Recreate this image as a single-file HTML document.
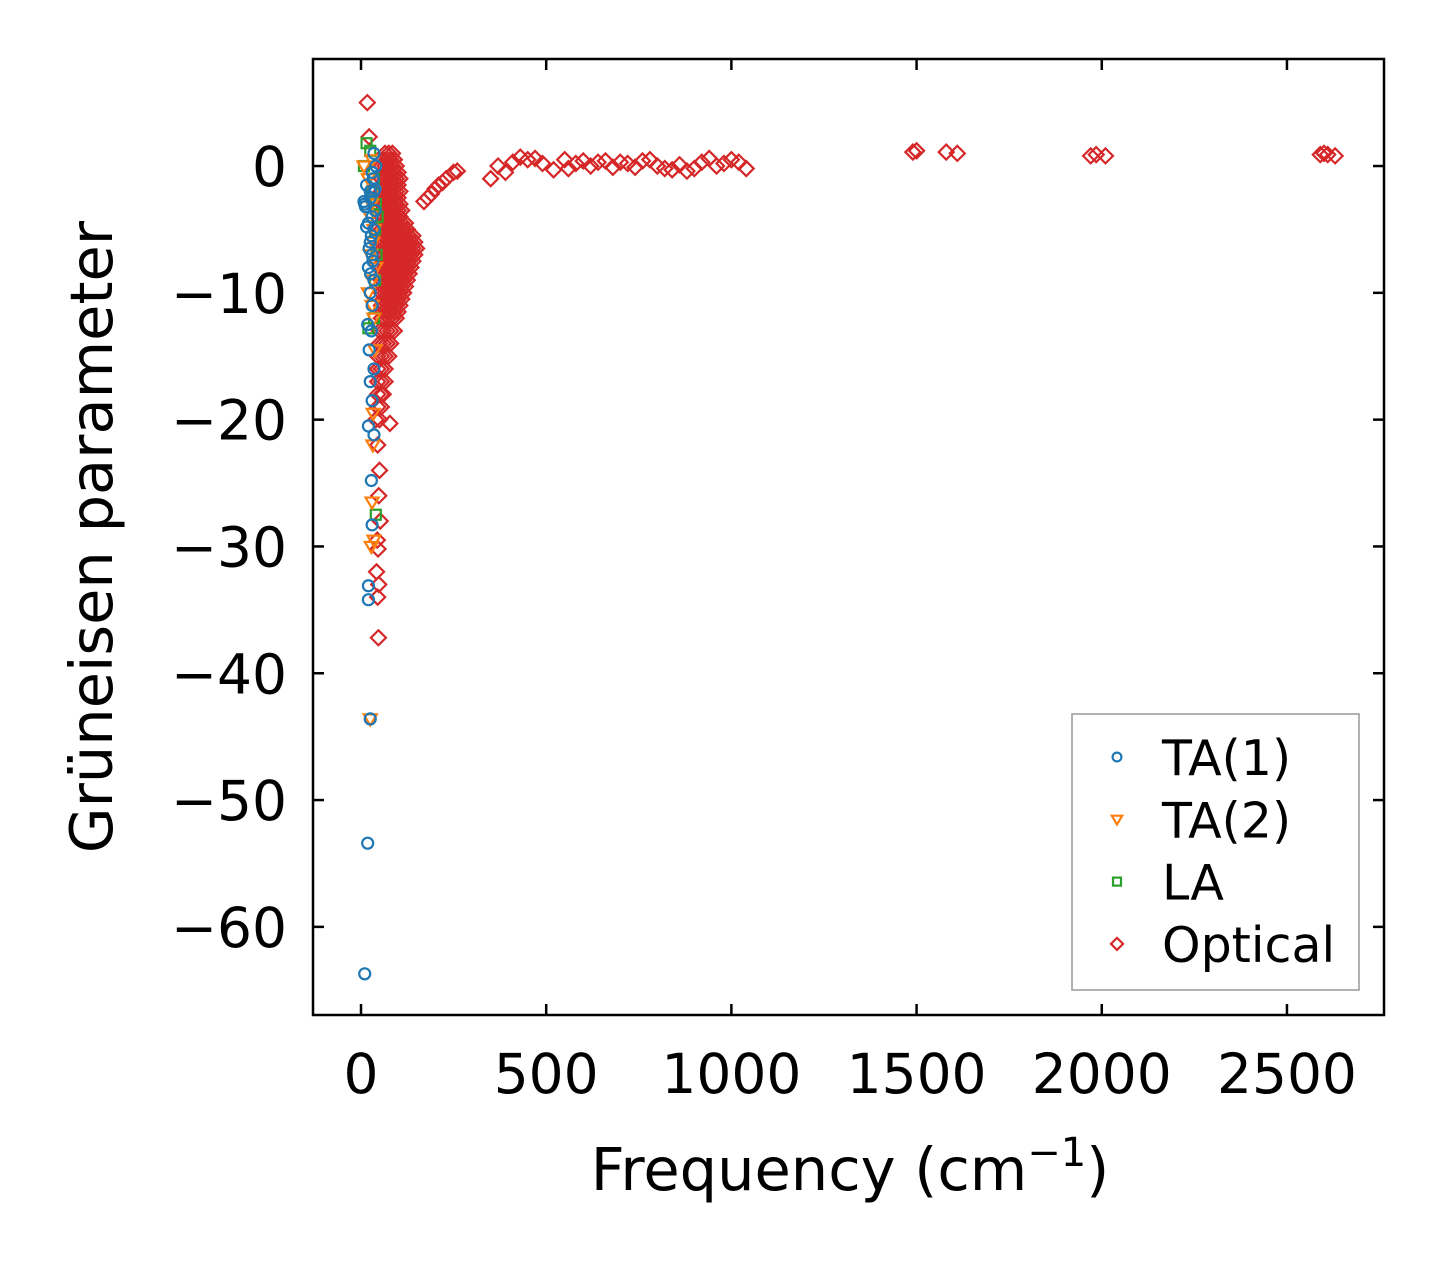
<!DOCTYPE html>
<html><head><meta charset="utf-8"><style>
body{margin:0;background:#fff}
svg text{font-family:"DejaVu Sans","Liberation Sans",sans-serif;fill:#000}
</style></head><body>
<svg id="chart" width="1443" height="1264" viewBox="0 0 1443 1264" xmlns="http://www.w3.org/2000/svg">
<rect width="1443" height="1264" fill="#fff"/>
<g id="marks"></g>
<rect x="313" y="59" width="1071" height="956" fill="none" stroke="#000" stroke-width="2.5"/>
<g id="ticks"></g>
<text x="850" y="1190" font-size="59" text-anchor="middle">Frequency (cm<tspan font-size="40" dy="-24">−1</tspan><tspan dy="24">)</tspan></text>
<text transform="translate(112,537) rotate(-90)" font-size="59" text-anchor="middle">Grüneisen parameter</text>
<g>
<rect x="1072" y="714" width="287" height="276" fill="#fff" stroke="#999" stroke-width="1.5"/>
<g id="legend-items"></g>
</g>
</svg>
<script>
const xTicks=[0,500,1000,1500,2000,2500];
const yTicks=[0,-10,-20,-30,-40,-50,-60];
const ta1Freq=[10,18,25,20,20,30,28,35,20,30,25,35,22,28,18,30,25,35,20,30,25,35,20,30,10,25,35,15,30,40,35,12,38,28,22,32,26,33,25,8,15,38];
const ta1Gamma=[-63.7,-53.4,-43.6,-34.2,-33.1,-28.3,-24.8,-21.2,-20.5,-18.5,-17,-16,-14.5,-13,-12.5,-11,-10,-9,-8,-7,-6,-5,-4.5,-4,-3,-2.5,-2,-1.5,-0.5,0,1,-3.2,-3.5,-5.5,-6.5,-7.5,-8.5,-1,-2,-2.8,-4.8,-1.8];
const ta2Freq=[25,28,35,30,32,33,38,35,20,30,25,35,28,20,30,35,25,32,40,30,8];
const ta2Gamma=[-43.6,-30,-29.5,-26.5,-22,-19.5,-14.5,-12,-10,-9,-7,-5,-3,-1,0.5,-2,-4,-6,-8,-11,0];
const laFreq=[15,25,35,40,38,42,38,35,40,30,45,20,8];
const laGamma=[1.8,1.2,-1,-3,-5,-7,-9,-12,-27.5,-2,-4,-12.8,0];
const optFreq=[17,22,78,45,50,48,52,44,46,42,48,45,47,170,180,190,200,210,220,230,250,260,350,370,390,410,430,450,470,490,520,550,560,580,600,620,640,660,680,700,720,740,760,780,800,820,840,860,880,900,920,940,960,980,1000,1020,1040,1490,1500,1580,1610,1970,1985,2010,2590,2600,2610,2630];
const optGamma=[5.0,2.3,-20.3,-22,-24,-26,-28,-29.5,-30.2,-32,-33,-34,-37.2,-2.8,-2.5,-2.2,-1.8,-1.5,-1.3,-1.0,-0.5,-0.4,-1.0,0.0,-0.5,0.3,0.7,0.5,0.6,0.2,-0.3,0.5,-0.2,0.2,0.4,0.0,0.3,0.4,-0.1,0.3,0.2,-0.1,0.4,0.5,0.0,-0.2,-0.3,0.1,-0.4,-0.2,0.3,0.6,0.0,0.2,0.5,0.3,-0.2,1.1,1.2,1.1,1.0,0.8,0.9,0.8,0.9,1.0,0.9,0.8];
const denseGamma=[1,0.5,0,-0.5,-1,-1.5,-2,-2.5,-3,-3.5,-4,-4.5,-5,-5.5,-6,-6.5,-7,-7.5,-8,-8.5,-9,-9.5,-10,-10.5,-11,-11.5,-12,-13,-14,-15,-16,-17,-18,-19,-20];
const denseFreqs=[[65,75,85],[60,70,80,90],[55,65,75,85,95],[60,70,80,90,100],[55,65,75,85,95,105],[60,70,80,90,100],[55,65,75,85,95,105],[60,70,80,90,100],[55,65,75,85,95,105],[60,70,80,90,100,110],[55,65,75,85,95,105],[60,70,80,90,100,110,120],[55,65,75,85,95,105,115,125],[60,70,80,90,100,110,120,130,140],[55,65,75,85,95,105,115,125,135,145],[60,70,80,90,100,110,120,130,140,150],[55,65,75,85,95,105,115,125,135,145],[60,70,80,90,100,110,120,130,140],[55,65,75,85,95,105,115,125,135],[60,70,80,90,100,110,120,130],[55,65,75,85,95,105,115,125],[60,70,80,90,100,110,120],[55,65,75,85,95,105,115],[60,70,80,90,100,110],[55,65,75,85,95,105],[60,70,80,90,100],[55,65,75,85,95],[50,60,70,80,90],[50,60,70,80],[45,55,65,75],[45,55,65],[45,55,65],[45,55,60],[45,55],[40,50]];

const NS='http://www.w3.org/2000/svg';
const X0=313,X1=1384,Y0=59,Y1=1015,XMIN=-129.6,XMAX=2762,YMIN=-66.95,YMAX=8.44;
function sx(v){return X0+(v-XMIN)/(XMAX-XMIN)*(X1-X0);}
function sy(v){return Y1-(v-YMIN)/(YMAX-YMIN)*(Y1-Y0);}
const marks=document.getElementById('marks');
const C={ta1:'#1f77b4',ta2:'#ff7f0e',la:'#2ca02c',opt:'#d62728'};
function shape(kind,cx,cy,s){
  let el;
  if(kind==='ta1'){el=document.createElementNS(NS,'circle');el.setAttribute('cx',cx);el.setAttribute('cy',cy);el.setAttribute('r',5.5*s);}
  else if(kind==='ta2'){el=document.createElementNS(NS,'polygon');el.setAttribute('points',`${cx-6.5*s},${cy-4.5*s} ${cx+6.5*s},${cy-4.5*s} ${cx},${cy+6.5*s}`);}
  else if(kind==='la'){el=document.createElementNS(NS,'rect');el.setAttribute('x',cx-5*s);el.setAttribute('y',cy-5*s);el.setAttribute('width',10*s);el.setAttribute('height',10*s);}
  else {el=document.createElementNS(NS,'polygon');el.setAttribute('points',`${cx},${cy-7.5*s} ${cx+7.5*s},${cy} ${cx},${cy+7.5*s} ${cx-7.5*s},${cy}`);}
  el.setAttribute('fill','none');el.setAttribute('stroke',C[kind]);el.setAttribute('stroke-width',2.2);
  return el;
}
function series(kind,fs,gs,name){
  const g=document.createElementNS(NS,'g');
  
  
  for(let i=0;i<fs.length;i++){
    const el=shape(kind,sx(fs[i]),sy(gs[i]),1);
    
    
    g.appendChild(el);
  }
  marks.appendChild(g);
}
const dF=[],dG=[];
denseGamma.forEach((gv,i)=>denseFreqs[i].forEach(f=>{dF.push(f);dG.push(gv);}));
series('opt',dF,dG,'optical-dense-series');
series('opt',optFreq,optGamma,'optical-series');
series('la',laFreq,laGamma,'la-series');
series('ta2',ta2Freq,ta2Gamma,'ta2-series');
series('ta1',ta1Freq,ta1Gamma,'ta1-series');

const tk=document.getElementById('ticks');
function line(x1,y1,x2,y2){const l=document.createElementNS(NS,'line');l.setAttribute('x1',x1);l.setAttribute('y1',y1);l.setAttribute('x2',x2);l.setAttribute('y2',y2);l.setAttribute('stroke','#000');l.setAttribute('stroke-width',2.5);


tk.appendChild(l);}
function txt(x,y,s,anchor,name){const t=document.createElementNS(NS,'text');t.setAttribute('x',x);t.setAttribute('y',y);t.setAttribute('font-size',55);t.setAttribute('text-anchor',anchor);t.textContent=s;


tk.appendChild(t);}
xTicks.forEach(v=>{const x=sx(v);line(x,Y1,x,Y1-11);line(x,Y0,x,Y0+11);txt(x,1093,String(v),'middle','x-tick-label');});
yTicks.forEach(v=>{const y=sy(v);line(X0,y,X0+11,y);line(X1,y,X1-11,y);txt(287,y+20,v<0?'−'+Math.abs(v):String(v),'end','y-tick-label');});

const li=document.getElementById('legend-items');
const legLabels=['TA(1)','TA(2)','LA','Optical'];
const legKinds=['ta1','ta2','la','opt'];
legLabels.forEach((lab,i)=>{
  const y=757+i*62.3;
  const m=shape(legKinds[i],1117,y,0.8);
  
  
  li.appendChild(m);
  const t=document.createElementNS(NS,'text');
  t.setAttribute('x',1162);t.setAttribute('y',y+18);t.setAttribute('font-size',49);t.textContent=lab;
  
  
  li.appendChild(t);
});
</script>
</body></html>
